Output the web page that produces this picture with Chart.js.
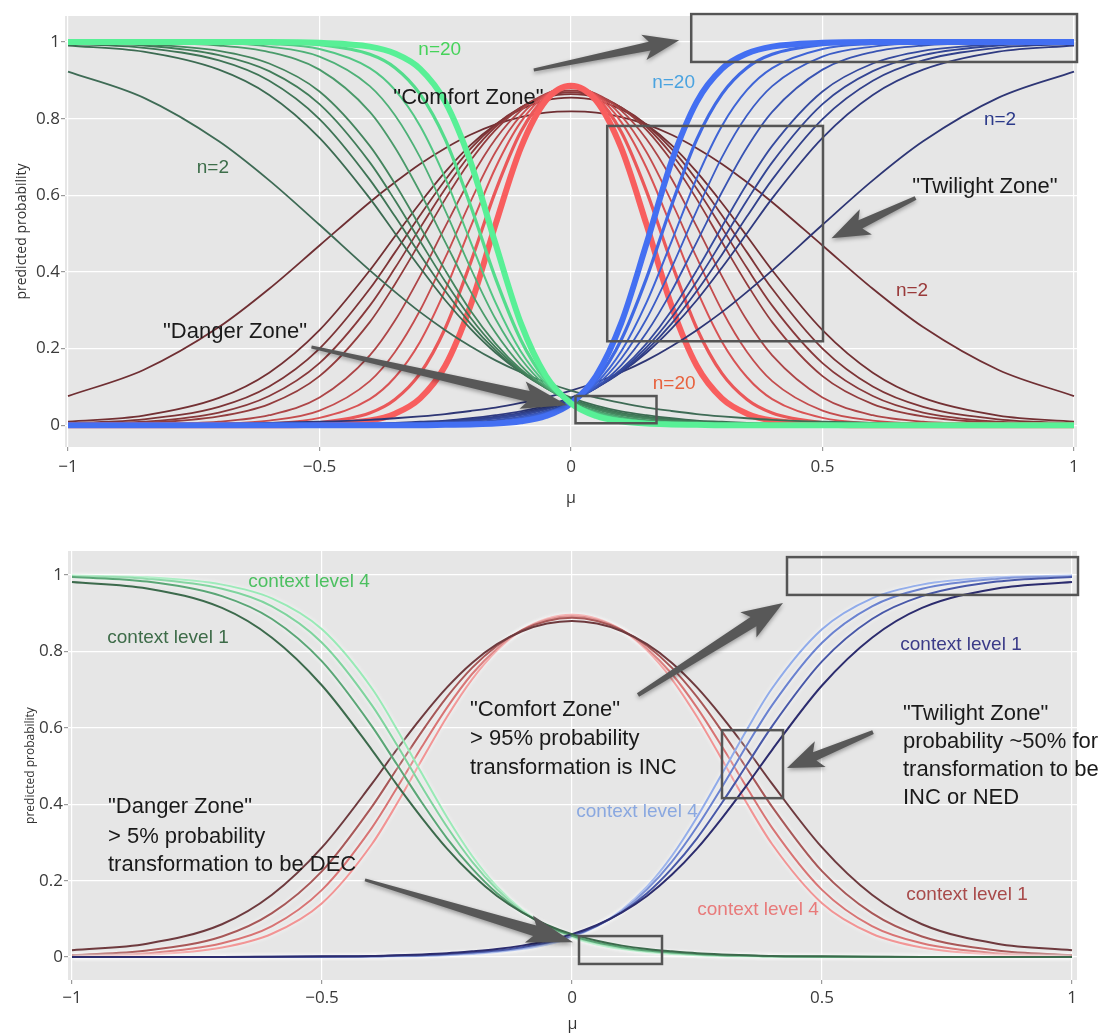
<!DOCTYPE html>
<html>
<head>
<meta charset="utf-8">
<title>predicted probability vs mu</title>
<script src="https://cdn.jsdelivr.net/npm/chart.js@4.4.1/dist/chart.umd.min.js"></script>
<style>
  html, body { margin: 0; padding: 0; background: #fff; }
  #wrap { position: relative; width: 1101px; height: 1036px; }
  #topChart { position: absolute; left: 0; top: 0; }
  #bottomChart { position: absolute; left: 0; top: 525px; }
</style>
</head>
<body>
<div id="wrap">
  <canvas id="topChart" width="1101" height="520" style="width:1101px;height:520px"></canvas>
  <canvas id="bottomChart" width="1101" height="511" style="width:1101px;height:511px"></canvas>
</div>
<script>
var mu = [-1, -0.85, -0.7, -0.6, -0.5, -0.4, -0.35, -0.3, -0.25, -0.2, -0.15, -0.1, -0.05, 0,
          0.05, 0.1, 0.15, 0.2, 0.25, 0.3, 0.35, 0.4, 0.5, 0.6, 0.7, 0.85, 1];

var xTicks = [-1, -0.5, 0, 0.5, 1];
var yTicks = [0, 0.2, 0.4, 0.6, 0.8, 1];

// top panel: sample size n
var nLabels = ['n=2', 'n=3', 'n=4', 'n=5', 'n=6', 'n=8', 'n=10', 'n=12', 'n=15', 'n=20'];

// DEC (green)
var dec2  = [0.923, 0.855, 0.741, 0.639, 0.523, 0.404, 0.348, 0.295, 0.248, 0.206, 0.169, 0.138, 0.112, 0.090, 0.072, 0.058, 0.046, 0.037, 0.029, 0.023, 0.018, 0.014, 0.009, 0.006, 0.003, 0.002, 0.001];
var dec3  = [0.991, 0.975, 0.928, 0.862, 0.750, 0.592, 0.501, 0.411, 0.326, 0.252, 0.189, 0.139, 0.101, 0.072, 0.051, 0.036, 0.026, 0.018, 0.012, 0.009, 0.006, 0.004, 0.002, 0.001, 0.001, 0.000, 0.000];
var dec4  = [0.995, 0.985, 0.952, 0.899, 0.799, 0.641, 0.545, 0.445, 0.350, 0.265, 0.195, 0.139, 0.098, 0.068, 0.047, 0.032, 0.022, 0.015, 0.010, 0.007, 0.004, 0.003, 0.001, 0.001, 0.000, 0.000, 0.000];
var dec5  = [0.997, 0.991, 0.966, 0.924, 0.838, 0.686, 0.587, 0.480, 0.375, 0.281, 0.203, 0.142, 0.097, 0.065, 0.044, 0.029, 0.019, 0.012, 0.008, 0.005, 0.003, 0.002, 0.001, 0.000, 0.000, 0.000, 0.000];
var dec6  = [0.999, 0.994, 0.977, 0.944, 0.871, 0.729, 0.630, 0.518, 0.404, 0.299, 0.213, 0.146, 0.097, 0.064, 0.041, 0.026, 0.017, 0.011, 0.007, 0.004, 0.003, 0.002, 0.001, 0.000, 0.000, 0.000, 0.000];
var dec8  = [1.000, 0.998, 0.991, 0.974, 0.928, 0.818, 0.725, 0.608, 0.478, 0.350, 0.241, 0.157, 0.099, 0.061, 0.037, 0.022, 0.013, 0.008, 0.005, 0.003, 0.002, 0.001, 0.000, 0.000, 0.000, 0.000, 0.000];
var dec10 = [1.000, 0.999, 0.997, 0.988, 0.962, 0.885, 0.809, 0.699, 0.560, 0.411, 0.277, 0.174, 0.103, 0.060, 0.034, 0.019, 0.010, 0.006, 0.003, 0.002, 0.001, 0.001, 0.000, 0.000, 0.000, 0.000, 0.000];
var dec12 = [1.000, 1.000, 0.999, 0.995, 0.982, 0.932, 0.875, 0.781, 0.645, 0.480, 0.320, 0.193, 0.109, 0.058, 0.031, 0.016, 0.008, 0.004, 0.002, 0.001, 0.001, 0.000, 0.000, 0.000, 0.000, 0.000, 0.000];
var dec15 = [1.000, 1.000, 1.000, 0.999, 0.993, 0.968, 0.933, 0.864, 0.746, 0.574, 0.383, 0.223, 0.117, 0.057, 0.027, 0.013, 0.006, 0.003, 0.001, 0.001, 0.000, 0.000, 0.000, 0.000, 0.000, 0.000, 0.000];
var dec20 = [1.000, 1.000, 1.000, 1.000, 0.998, 0.988, 0.970, 0.930, 0.844, 0.688, 0.473, 0.267, 0.129, 0.057, 0.024, 0.010, 0.004, 0.002, 0.001, 0.000, 0.000, 0.000, 0.000, 0.000, 0.000, 0.000, 0.000];

// NED (red)
var ned2  = [0.076, 0.144, 0.256, 0.356, 0.469, 0.582, 0.634, 0.682, 0.723, 0.758, 0.785, 0.804, 0.816, 0.819, 0.816, 0.804, 0.785, 0.758, 0.723, 0.682, 0.634, 0.582, 0.469, 0.356, 0.256, 0.144, 0.076];
var ned3  = [0.009, 0.025, 0.071, 0.137, 0.248, 0.404, 0.493, 0.580, 0.661, 0.731, 0.785, 0.824, 0.848, 0.855, 0.848, 0.824, 0.785, 0.731, 0.661, 0.580, 0.493, 0.404, 0.248, 0.137, 0.071, 0.025, 0.009];
var ned4  = [0.005, 0.015, 0.048, 0.101, 0.200, 0.356, 0.451, 0.548, 0.640, 0.721, 0.784, 0.829, 0.856, 0.864, 0.856, 0.829, 0.784, 0.721, 0.640, 0.548, 0.451, 0.356, 0.200, 0.101, 0.048, 0.015, 0.005];
var ned5  = [0.003, 0.009, 0.033, 0.076, 0.162, 0.312, 0.410, 0.515, 0.617, 0.707, 0.779, 0.829, 0.859, 0.869, 0.859, 0.829, 0.779, 0.707, 0.617, 0.515, 0.410, 0.312, 0.162, 0.076, 0.033, 0.009, 0.003];
var ned6  = [0.002, 0.006, 0.023, 0.055, 0.128, 0.269, 0.368, 0.478, 0.590, 0.690, 0.771, 0.828, 0.862, 0.873, 0.862, 0.828, 0.771, 0.690, 0.590, 0.478, 0.368, 0.269, 0.128, 0.055, 0.023, 0.006, 0.002];
var ned8  = [0.000, 0.002, 0.009, 0.026, 0.072, 0.182, 0.273, 0.389, 0.518, 0.643, 0.747, 0.821, 0.865, 0.879, 0.865, 0.821, 0.747, 0.643, 0.518, 0.389, 0.273, 0.182, 0.072, 0.026, 0.009, 0.002, 0.000];
var ned10 = [0.000, 0.001, 0.004, 0.012, 0.038, 0.115, 0.191, 0.300, 0.437, 0.583, 0.713, 0.808, 0.863, 0.881, 0.863, 0.808, 0.713, 0.583, 0.437, 0.300, 0.191, 0.115, 0.038, 0.012, 0.004, 0.001, 0.000];
var ned12 = [0.000, 0.000, 0.001, 0.005, 0.019, 0.068, 0.125, 0.218, 0.353, 0.516, 0.672, 0.791, 0.861, 0.883, 0.861, 0.791, 0.672, 0.516, 0.353, 0.218, 0.125, 0.068, 0.019, 0.005, 0.001, 0.000, 0.000];
var ned15 = [0.000, 0.000, 0.000, 0.002, 0.007, 0.032, 0.067, 0.135, 0.253, 0.423, 0.611, 0.765, 0.856, 0.885, 0.856, 0.765, 0.611, 0.423, 0.253, 0.135, 0.067, 0.032, 0.007, 0.002, 0.000, 0.000, 0.000];
var ned20 = [0.000, 0.000, 0.000, 0.000, 0.002, 0.012, 0.030, 0.070, 0.155, 0.311, 0.524, 0.723, 0.847, 0.886, 0.847, 0.723, 0.524, 0.311, 0.155, 0.070, 0.030, 0.012, 0.002, 0.000, 0.000, 0.000, 0.000];

// INC (blue)
var inc2  = [0.001, 0.002, 0.003, 0.006, 0.009, 0.014, 0.018, 0.023, 0.029, 0.037, 0.046, 0.058, 0.072, 0.090, 0.112, 0.138, 0.169, 0.206, 0.248, 0.295, 0.348, 0.404, 0.523, 0.639, 0.741, 0.855, 0.923];
var inc3  = [0.000, 0.000, 0.001, 0.001, 0.002, 0.004, 0.006, 0.009, 0.012, 0.018, 0.026, 0.036, 0.051, 0.072, 0.101, 0.139, 0.189, 0.252, 0.326, 0.411, 0.501, 0.592, 0.750, 0.862, 0.928, 0.975, 0.991];
var inc4  = [0.000, 0.000, 0.000, 0.001, 0.001, 0.003, 0.004, 0.007, 0.010, 0.015, 0.022, 0.032, 0.047, 0.068, 0.098, 0.139, 0.195, 0.265, 0.350, 0.445, 0.545, 0.641, 0.799, 0.899, 0.952, 0.985, 0.995];
var inc5  = [0.000, 0.000, 0.000, 0.000, 0.001, 0.002, 0.003, 0.005, 0.008, 0.012, 0.019, 0.029, 0.044, 0.065, 0.097, 0.142, 0.203, 0.281, 0.375, 0.480, 0.587, 0.686, 0.838, 0.924, 0.966, 0.991, 0.997];
var inc6  = [0.000, 0.000, 0.000, 0.000, 0.001, 0.002, 0.003, 0.004, 0.007, 0.011, 0.017, 0.026, 0.041, 0.064, 0.097, 0.146, 0.213, 0.299, 0.404, 0.518, 0.630, 0.729, 0.871, 0.944, 0.977, 0.994, 0.999];
var inc8  = [0.000, 0.000, 0.000, 0.000, 0.000, 0.001, 0.002, 0.003, 0.005, 0.008, 0.013, 0.022, 0.037, 0.061, 0.099, 0.157, 0.241, 0.350, 0.478, 0.608, 0.725, 0.818, 0.928, 0.974, 0.991, 0.998, 1.000];
var inc10 = [0.000, 0.000, 0.000, 0.000, 0.000, 0.001, 0.001, 0.002, 0.003, 0.006, 0.010, 0.019, 0.034, 0.060, 0.103, 0.174, 0.277, 0.411, 0.560, 0.699, 0.809, 0.885, 0.962, 0.988, 0.997, 0.999, 1.000];
var inc12 = [0.000, 0.000, 0.000, 0.000, 0.000, 0.000, 0.001, 0.001, 0.002, 0.004, 0.008, 0.016, 0.031, 0.058, 0.109, 0.193, 0.320, 0.480, 0.645, 0.781, 0.875, 0.932, 0.982, 0.995, 0.999, 1.000, 1.000];
var inc15 = [0.000, 0.000, 0.000, 0.000, 0.000, 0.000, 0.000, 0.001, 0.001, 0.003, 0.006, 0.013, 0.027, 0.057, 0.117, 0.223, 0.383, 0.574, 0.746, 0.864, 0.933, 0.968, 0.993, 0.999, 1.000, 1.000, 1.000];
var inc20 = [0.000, 0.000, 0.000, 0.000, 0.000, 0.000, 0.000, 0.000, 0.001, 0.002, 0.004, 0.010, 0.024, 0.057, 0.129, 0.267, 0.473, 0.688, 0.844, 0.930, 0.970, 0.988, 0.998, 1.000, 1.000, 1.000, 1.000];

// bottom panel: context level
var ctxLabels = ['context level 1', 'context level 2', 'context level 3', 'context level 4'];

var decCtx1 = [0.982, 0.965, 0.914, 0.836, 0.711, 0.542, 0.451, 0.364, 0.284, 0.216, 0.160, 0.117, 0.084, 0.060, 0.043, 0.030, 0.021, 0.015, 0.010, 0.007, 0.005, 0.003, 0.002, 0.001, 0.000, 0.000, 0.000];
var decCtx2 = [0.995, 0.983, 0.945, 0.885, 0.774, 0.604, 0.504, 0.404, 0.311, 0.232, 0.167, 0.118, 0.082, 0.056, 0.038, 0.026, 0.017, 0.012, 0.008, 0.005, 0.004, 0.002, 0.001, 0.001, 0.000, 0.000, 0.000];
var decCtx3 = [0.997, 0.990, 0.964, 0.918, 0.823, 0.659, 0.555, 0.445, 0.341, 0.250, 0.177, 0.121, 0.082, 0.054, 0.036, 0.023, 0.015, 0.010, 0.006, 0.004, 0.003, 0.002, 0.001, 0.000, 0.000, 0.000, 0.000];
var decCtx4 = [0.999, 0.994, 0.975, 0.939, 0.858, 0.703, 0.596, 0.480, 0.366, 0.265, 0.184, 0.124, 0.081, 0.052, 0.033, 0.021, 0.013, 0.008, 0.005, 0.003, 0.002, 0.001, 0.001, 0.000, 0.000, 0.000, 0.000];

var nedCtx1 = [0.018, 0.035, 0.086, 0.163, 0.287, 0.454, 0.544, 0.629, 0.706, 0.770, 0.819, 0.853, 0.873, 0.880, 0.873, 0.853, 0.819, 0.770, 0.706, 0.629, 0.544, 0.454, 0.287, 0.163, 0.086, 0.035, 0.018];
var nedCtx2 = [0.005, 0.017, 0.054, 0.115, 0.225, 0.394, 0.493, 0.591, 0.681, 0.757, 0.815, 0.856, 0.880, 0.888, 0.880, 0.856, 0.815, 0.757, 0.681, 0.591, 0.493, 0.394, 0.225, 0.115, 0.054, 0.017, 0.005];
var nedCtx3 = [0.003, 0.010, 0.036, 0.081, 0.176, 0.339, 0.443, 0.551, 0.653, 0.741, 0.808, 0.856, 0.883, 0.892, 0.883, 0.856, 0.808, 0.741, 0.653, 0.551, 0.443, 0.339, 0.176, 0.081, 0.036, 0.010, 0.003];
var nedCtx4 = [0.002, 0.006, 0.025, 0.061, 0.141, 0.296, 0.402, 0.517, 0.629, 0.727, 0.803, 0.856, 0.886, 0.896, 0.886, 0.856, 0.803, 0.727, 0.629, 0.517, 0.402, 0.296, 0.141, 0.061, 0.025, 0.006, 0.002];

var incCtx1 = [0.000, 0.000, 0.000, 0.001, 0.002, 0.003, 0.005, 0.007, 0.010, 0.015, 0.021, 0.030, 0.043, 0.060, 0.084, 0.117, 0.160, 0.216, 0.284, 0.364, 0.451, 0.542, 0.711, 0.836, 0.914, 0.965, 0.982];
var incCtx2 = [0.000, 0.000, 0.000, 0.001, 0.001, 0.002, 0.004, 0.005, 0.008, 0.012, 0.017, 0.026, 0.038, 0.056, 0.082, 0.118, 0.167, 0.232, 0.311, 0.404, 0.504, 0.604, 0.774, 0.885, 0.945, 0.983, 0.995];
var incCtx3 = [0.000, 0.000, 0.000, 0.000, 0.001, 0.002, 0.003, 0.004, 0.006, 0.010, 0.015, 0.023, 0.036, 0.054, 0.082, 0.121, 0.177, 0.250, 0.341, 0.445, 0.555, 0.659, 0.823, 0.918, 0.964, 0.990, 0.997];
var incCtx4 = [0.000, 0.000, 0.000, 0.000, 0.001, 0.001, 0.002, 0.003, 0.005, 0.008, 0.013, 0.021, 0.033, 0.052, 0.081, 0.124, 0.184, 0.265, 0.366, 0.480, 0.596, 0.703, 0.858, 0.939, 0.975, 0.994, 0.999];

// line colours, dark (small n / level 1) to bright
var decColors = ['#3e6b55', '#3c6b52', '#3e7455', '#417c59', '#44855e', '#4a9a6a', '#4eb077', '#52c784', '#54dc8c', '#58f096'];
var nedColors = ['#6f2f33', '#733033', '#7d3436', '#88383a', '#933c3d', '#ad4547', '#c44c4d', '#d85354', '#ea5859', '#f85e5e'];
var incColors = ['#2e3675', '#2f3a80', '#31408b', '#334594', '#354a9e', '#3853b2', '#3b5cc6', '#3e64d6', '#4069e4', '#436ff2'];
var topWidths = [1.8, 1.8, 1.8, 1.8, 1.8, 1.8, 1.8, 2, 3.2, 6];

var decCtxColors = ['#3c6a4c', '#5aa676', '#7fd49e', '#98eab6'];
var nedCtxColors = ['#6e3a3e', '#a85858', '#d87474', '#f29494'];
var incCtxColors = ['#2c2c6e', '#4858a8', '#6a82d0', '#90abea'];

var minus = '\u2212';

function lineSet(label, values, color, width, order, glow) {
  return {
    label: label,
    data: mu.map(function (m, i) { return { x: m, y: values[i] }; }),
    borderColor: color,
    borderWidth: width,
    pointRadius: 0,
    fill: false,
    cubicInterpolationMode: 'monotone',
    order: order,
    glow: glow || false
  };
}

function drawArrow(ctx, p0, p1, a) {
  var dx = p1.x - p0.x, dy = p1.y - p0.y;
  var len = Math.sqrt(dx * dx + dy * dy);
  var ux = dx / len, uy = dy / len, nx = -uy, ny = ux;
  var bx = p1.x - ux * a.head, by = p1.y - uy * a.head;
  var sx = bx - ux * 6, sy = by - uy * 6;
  ctx.beginPath();
  ctx.moveTo(p0.x + nx * a.w0, p0.y + ny * a.w0);
  ctx.lineTo(bx + nx * a.w1, by + ny * a.w1);
  ctx.lineTo(sx + nx * a.hw, sy + ny * a.hw);
  ctx.lineTo(p1.x, p1.y);
  ctx.lineTo(sx - nx * a.hw, sy - ny * a.hw);
  ctx.lineTo(bx - nx * a.w1, by - ny * a.w1);
  ctx.lineTo(p0.x - nx * a.w0, p0.y - ny * a.w0);
  ctx.closePath();
  ctx.fill();
}

// panel background like the ggplot theme, plus a soft halo on the pale lines
var panelBg = {
  id: 'panelBg',
  beforeDraw: function (chart) {
    var a = chart.chartArea, ctx = chart.ctx;
    ctx.save();
    ctx.fillStyle = '#e6e6e6';
    ctx.fillRect(a.left, a.top, a.right - a.left, a.bottom - a.top);
    ctx.restore();
  },
  beforeDatasetDraw: function (chart, args) {
    if (chart.data.datasets[args.index].glow) {
      chart.ctx.shadowColor = 'rgba(255,255,255,0.9)';
      chart.ctx.shadowBlur = 4;
    }
  },
  afterDatasetDraw: function (chart) {
    chart.ctx.shadowColor = 'transparent';
    chart.ctx.shadowBlur = 0;
  }
};

// boxes, arrows and labels drawn on top
function zonePlugin(ann) {
  return {
    id: 'zones',
    afterDraw: function (chart) {
      var ctx = chart.ctx, xs = chart.scales.x, ys = chart.scales.y;
      function pt(x, y) { return { x: xs.getPixelForValue(x), y: ys.getPixelForValue(y) }; }
      ctx.save();
      ctx.strokeStyle = '#555';
      ctx.lineWidth = 2.5;
      ann.boxes.forEach(function (b) {
        var p = pt(b[0], b[1]), q = pt(b[2], b[3]);
        ctx.strokeRect(p.x, p.y, q.x - p.x, q.y - p.y);
      });
      ctx.fillStyle = '#585858';
      ctx.shadowColor = 'rgba(0,0,0,0.35)';
      ctx.shadowBlur = 4;
      ctx.shadowOffsetY = 2;
      ann.arrows.forEach(function (a) {
        drawArrow(ctx, pt(a.from[0], a.from[1]), pt(a.to[0], a.to[1]), a);
      });
      ctx.shadowColor = 'transparent';
      ctx.shadowBlur = 0;
      ctx.shadowOffsetY = 0;
      ctx.textBaseline = 'middle';
      ann.texts.forEach(function (t) {
        var p = pt(t.x, t.y);
        ctx.font = t.size + 'px "Liberation Sans", Arial, sans-serif';
        ctx.fillStyle = t.color;
        ctx.textAlign = t.align || 'center';
        ctx.fillText(t.text, p.x, p.y);
      });
      ctx.restore();
    }
  };
}

function makeChart(id, datasets, frame, ann) {
  return new Chart(document.getElementById(id), {
    type: 'line',
    data: { datasets: datasets },
    options: {
      responsive: false,
      animation: false,
      events: [],
      layout: { padding: { left: 0, top: frame.top, right: frame.right, bottom: 0 } },
      plugins: { legend: { display: false }, tooltip: { enabled: false } },
      scales: {
        x: {
          type: 'linear',
          min: frame.xMin,
          max: frame.xMax,
          afterBuildTicks: function (s) { s.ticks = xTicks.map(function (v) { return { value: v }; }); },
          afterFit: function (s) { s.height = frame.xAxisHeight; },
          grid: { color: '#ffffff', lineWidth: 1.2, tickColor: '#9a9a9a', tickLength: 4 },
          border: { display: false },
          ticks: {
            padding: frame.xTickPad,
            color: '#3a3a3a',
            font: { family: '"Open Sans", sans-serif', size: 17 },
            callback: function (v) { return v < 0 ? minus + Math.abs(v) : String(v); }
          },
          title: {
            display: true, text: '\u03bc', color: '#333',
            font: { family: '"Open Sans", sans-serif', size: 16 },
            padding: { top: 0, bottom: frame.muPad }
          }
        },
        y: {
          type: 'linear',
          min: frame.yMin,
          max: frame.yMax,
          afterBuildTicks: function (s) { s.ticks = yTicks.map(function (v) { return { value: v }; }); },
          afterFit: function (s) { s.width = frame.yAxisWidth; },
          grid: { color: '#ffffff', lineWidth: 1.2, tickColor: '#9a9a9a', tickLength: 4 },
          border: { display: false },
          ticks: {
            padding: 1,
            color: '#3a3a3a',
            font: { family: '"Open Sans", sans-serif', size: 17 },
            callback: function (v) { return String(v); }
          },
          title: {
            display: true, text: 'predicted probability', color: '#333',
            font: { family: '"Open Sans", sans-serif', size: frame.yTitleSize },
            padding: { top: frame.yTitlePad, bottom: 0 }
          }
        }
      }
    },
    plugins: [panelBg, zonePlugin(ann)]
  });
}

// ---- top panel ----
var decTop = [dec2, dec3, dec4, dec5, dec6, dec8, dec10, dec12, dec15, dec20];
var nedTop = [ned2, ned3, ned4, ned5, ned6, ned8, ned10, ned12, ned15, ned20];
var incTop = [inc2, inc3, inc4, inc5, inc6, inc8, inc10, inc12, inc15, inc20];

var topSets = [];
nLabels.forEach(function (lab, i) {
  topSets.push(lineSet('NED ' + lab, nedTop[i], nedColors[i], topWidths[i], 60 - i));
  topSets.push(lineSet('DEC ' + lab, decTop[i], decColors[i], topWidths[i], 30 - i));
  topSets.push(lineSet('INC ' + lab, incTop[i], incColors[i], topWidths[i], 30 - i));
});

var topAnn = {
  boxes: [[0.239, 1.073, 1.006, 0.948], [0.072, 0.781, 0.501, 0.219], [0.009, 0.076, 0.170, 0.005]],
  arrows: [
    { from: [-0.074, 0.927], to: [0.215, 1.005], w0: 1.5, w1: 4.5, head: 30, hw: 13 },
    { from: [-0.516, 0.204], to: [-0.007, 0.052], w0: 1.5, w1: 5.5, head: 40, hw: 14 },
    { from: [0.685, 0.593], to: [0.518, 0.488], w0: 2, w1: 4.5, head: 32, hw: 14 }
  ],
  texts: [
    { text: 'n=20', x: -0.261, y: 0.979, color: '#46d35a', size: 19 },
    { text: '"Comfort Zone"', x: -0.204, y: 0.854, color: '#1a1a1a', size: 22 },
    { text: 'n=20', x: 0.204, y: 0.893, color: '#4aa3e0', size: 19 },
    { text: 'n=2', x: -0.712, y: 0.671, color: '#3d6e4a', size: 19 },
    { text: 'n=2', x: 0.853, y: 0.796, color: '#2c3a8a', size: 19 },
    { text: '"Twilight Zone"', x: 0.823, y: 0.621, color: '#1a1a1a', size: 22 },
    { text: 'n=2', x: 0.678, y: 0.352, color: '#9a3a3a', size: 19 },
    { text: '"Danger Zone"', x: -0.668, y: 0.243, color: '#1a1a1a', size: 22 },
    { text: 'n=20', x: 0.205, y: 0.109, color: '#e8623e', size: 19 }
  ]
};

makeChart('topChart', topSets, {
  top: 16, right: 24, xMin: -1.006, xMax: 1.006, yMin: -0.057, yMax: 1.068,
  xAxisHeight: 73, yAxisWidth: 65, xTickPad: 6, muPad: 12, yTitleSize: 14, yTitlePad: 14
}, topAnn);

// ---- bottom panel ----
var decBottom = [decCtx1, decCtx2, decCtx3, decCtx4];
var nedBottom = [nedCtx1, nedCtx2, nedCtx3, nedCtx4];
var incBottom = [incCtx1, incCtx2, incCtx3, incCtx4];

var bottomSets = [];
ctxLabels.forEach(function (lab, i) {
  var glow = i > 0;
  bottomSets.push(lineSet('NED ' + lab, nedBottom[i], nedCtxColors[i], 2, 20 + i, glow));
  bottomSets.push(lineSet('DEC ' + lab, decBottom[i], decCtxColors[i], 2, 10 + i, glow));
  bottomSets.push(lineSet('INC ' + lab, incBottom[i], incCtxColors[i], 2, 10 + i, glow));
});

var bottomAnn = {
  boxes: [[0.43, 1.047, 1.012, 0.948], [0.30, 0.594, 0.422, 0.416], [0.014, 0.055, 0.18, -0.018]],
  arrows: [
    { from: [0.132, 0.686], to: [0.422, 0.927], w0: 2, w1: 5.5, head: 35, hw: 15 },
    { from: [0.602, 0.589], to: [0.43, 0.495], w0: 2, w1: 4.5, head: 30, hw: 14 },
    { from: [-0.414, 0.202], to: [0.002, 0.039], w0: 1.5, w1: 5.5, head: 40, hw: 14 }
  ],
  texts: [
    { text: 'context level 4', x: -0.526, y: 0.982, color: '#4cc060', size: 19 },
    { text: 'context level 1', x: -0.808, y: 0.835, color: '#3d6b48', size: 19 },
    { text: '"Danger Zone"', x: -0.928, y: 0.393, color: '#1a1a1a', size: 22, align: 'left' },
    { text: '> 5% probability', x: -0.928, y: 0.314, color: '#1a1a1a', size: 22, align: 'left' },
    { text: 'transformation to be DEC', x: -0.928, y: 0.241, color: '#1a1a1a', size: 22, align: 'left' },
    { text: '"Comfort Zone"', x: -0.204, y: 0.647, color: '#1a1a1a', size: 22, align: 'left' },
    { text: '> 95% probability', x: -0.204, y: 0.571, color: '#1a1a1a', size: 22, align: 'left' },
    { text: 'transformation is INC', x: -0.204, y: 0.495, color: '#1a1a1a', size: 22, align: 'left' },
    { text: 'context level 4', x: 0.13, y: 0.38, color: '#8aa8e0', size: 19 },
    { text: 'context level 1', x: 0.778, y: 0.817, color: '#3b3b88', size: 19 },
    { text: '"Twilight Zone"', x: 0.662, y: 0.636, color: '#1a1a1a', size: 22, align: 'left' },
    { text: 'probability ~50% for', x: 0.662, y: 0.563, color: '#1a1a1a', size: 22, align: 'left' },
    { text: 'transformation to be', x: 0.662, y: 0.490, color: '#1a1a1a', size: 22, align: 'left' },
    { text: 'INC or NED', x: 0.662, y: 0.416, color: '#1a1a1a', size: 22, align: 'left' },
    { text: 'context level 1', x: 0.79, y: 0.162, color: '#a84a4a', size: 19 },
    { text: 'context level 4', x: 0.372, y: 0.123, color: '#e87a7a', size: 19 }
  ]
};

makeChart('bottomChart', bottomSets, {
  top: 26, right: 24, xMin: -1.008, xMax: 1.01, yMin: -0.06, yMax: 1.063,
  xAxisHeight: 56, yAxisWidth: 68, xTickPad: 4, muPad: 2, yTitleSize: 12, yTitlePad: 23
}, bottomAnn);
</script>
</body>
</html>
